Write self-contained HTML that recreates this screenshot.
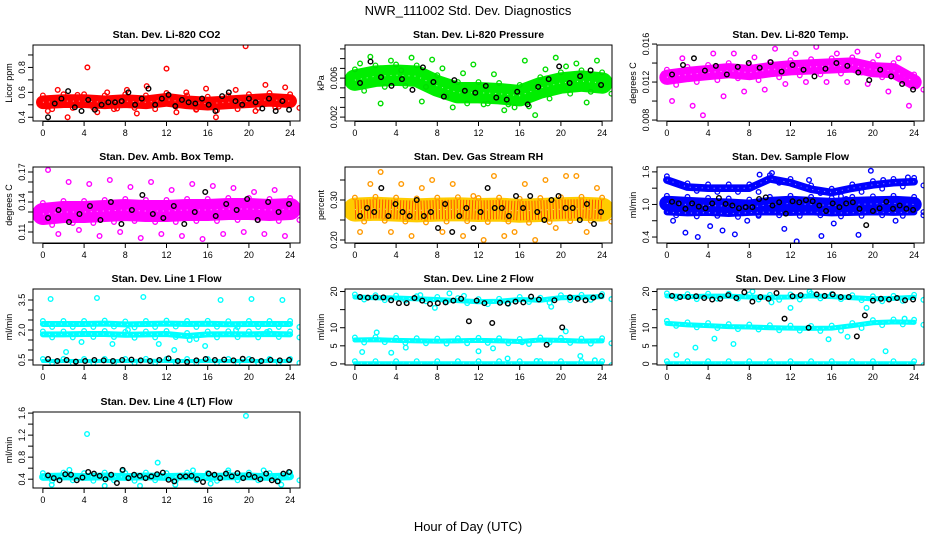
<!DOCTYPE html>
<html><head><meta charset="utf-8">
<style>
body{margin:0;background:#fff;}
svg{display:block;font-family:"Liberation Sans",sans-serif;}
</style></head>
<body>
<svg id="chart" width="936" height="540" viewBox="0 0 936 540">
<text x="468" y="15" text-anchor="middle" font-size="13">NWR_111002 Std. Dev. Diagnostics</text>
<text x="468" y="531" text-anchor="middle" font-size="13">Hour of Day (UTC)</text>
</svg>
<script>
// ---- data (x positions implicit = evenly spread 0..24 h) ----
const xTicks = [0,4,8,12,16,20,24];
const co2Band = [0.52,0.53,0.53,0.52,0.53,0.52,0.54,0.52,0.51,0.52,0.53,0.54,0.53];
const co2Pts = [0.45,0.62,0.4,0.58,0.8,0.44,0.6,0.47,0.62,0.43,0.65,0.5,0.79,0.44,0.6,0.46,0.63,0.4,0.55,0.62,0.97,0.45,0.66,0.48,0.64];
const co2Blk = [0.4,0.51,0.55,0.61,0.48,0.45,0.54,0.46,0.5,0.52,0.52,0.53,0.6,0.5,0.55,0.63,0.5,0.55,0.58,0.49,0.54,0.52,0.51,0.55,0.5,0.45,0.57,0.6,0.53,0.5,0.55,0.52,0.47,0.55,0.45,0.53,0.46];
const presBand = [0.0058,0.0062,0.0063,0.0062,0.0052,0.0045,0.0045,0.0044,0.0042,0.0050,0.0055,0.0057,0.0055];
const presPts = [0.0075,0.0082,0.0034,0.0078,0.0068,0.0081,0.0036,0.0079,0.0070,0.0030,0.0065,0.0074,0.0033,0.0064,0.0027,0.0030,0.0078,0.0022,0.0069,0.0081,0.0072,0.0075,0.0035,0.0078];
const presBlk = [0.0055,0.0077,0.0061,0.0052,0.0059,0.0048,0.0071,0.0056,0.0041,0.0058,0.0047,0.0045,0.0052,0.0040,0.0038,0.0046,0.0033,0.0051,0.0059,0.0072,0.0055,0.0062,0.0068,0.0053];
const tempBand = [0.0125,0.0128,0.0130,0.0132,0.0130,0.0133,0.0135,0.0136,0.0137,0.0138,0.0133,0.0132,0.0120];
const tempPts = [0.0100,0.0145,0.0095,0.0085,0.0150,0.0105,0.0150,0.0110,0.0146,0.0112,0.0155,0.0118,0.0150,0.0120,0.0157,0.0120,0.0150,0.0120,0.0152,0.0118,0.0148,0.0110,0.0145,0.0095];
const tempBlk = [0.0128,0.0138,0.0145,0.0132,0.0137,0.0128,0.0136,0.0140,0.0135,0.0141,0.0131,0.0138,0.0133,0.0126,0.0134,0.0140,0.0137,0.0130,0.0122,0.0133,0.0126,0.0118,0.0112];
const ambBand = [0.128,0.130,0.130,0.131,0.132,0.131,0.131,0.132,0.132,0.133,0.133,0.132,0.133];
const ambPts = [0.172,0.108,0.160,0.112,0.158,0.106,0.162,0.110,0.155,0.104,0.160,0.108,0.152,0.106,0.158,0.103,0.156,0.108,0.154,0.110,0.150,0.108,0.152,0.106];
const ambBlk = [0.124,0.132,0.120,0.128,0.136,0.122,0.140,0.118,0.132,0.147,0.128,0.124,0.136,0.118,0.130,0.150,0.126,0.138,0.132,0.143,0.122,0.140,0.130,0.138];
const rhBand = [0.276,0.278,0.276,0.274,0.276,0.277,0.275,0.276,0.273,0.275,0.277,0.278,0.276];
const rhPts = [0.22,0.34,0.37,0.22,0.34,0.21,0.33,0.35,0.22,0.34,0.21,0.31,0.20,0.36,0.21,0.22,0.34,0.20,0.35,0.23,0.36,0.36,0.22,0.33];
const rhBlk = [0.26,0.28,0.27,0.33,0.26,0.29,0.27,0.26,0.30,0.26,0.27,0.23,0.29,0.22,0.26,0.28,0.23,0.27,0.33,0.28,0.28,0.26,0.31,0.28,0.31,0.27,0.25,0.30,0.31,0.28,0.28,0.25,0.29,0.24,0.27];
const flowBandHi = [1.45,1.32,1.30,1.30,1.30,1.47,1.40,1.28,1.22,1.30,1.36,1.40,1.42];
const flowBandMid = [1.02,1.00,0.98,0.97,0.95,1.00,1.02,1.00,0.98,1.00,1.01,1.02,1.00];
const flowBandLo = [0.86,0.84,0.85,0.83,0.85,0.86,0.85,0.86,0.84,0.85,0.86,0.85,0.86];
const flowPts = [0.70,0.48,0.40,0.60,0.52,0.45,0.70,1.55,1.58,0.55,0.32,1.45,0.42,0.65,1.10,0.44,1.62,1.45,0.70,1.50];
const flowBlk = [1.05,1.02,0.92,1.02,0.96,0.93,1.02,1.12,1.01,0.98,0.93,0.95,0.95,1.10,1.13,0.98,1.04,0.83,1.06,1.04,1.08,1.06,0.98,0.88,1.02,0.95,1.02,1.04,0.92,0.62,0.88,0.93,1.05,0.92,0.98,0.92,0.90];
const l1BandA = [2.30,2.30,2.30,2.32,2.28,2.30,2.32,2.30,2.31,2.29,2.30,2.30,2.30];
const l1BandB = [1.78,1.78,1.80,1.80,1.76,1.78,1.80,1.70,1.78,1.79,1.78,1.80,1.78];
const l1BandC = [0.45,0.45,0.45,0.45,0.45,0.46,0.45,0.45,0.45,0.45,0.45,0.45,0.45];
const l1Pts = [3.55,0.9,1.4,3.6,1.3,2.0,3.65,1.3,1.0,1.5,1.2,3.5,2.0,3.55,1.9,3.5];
const l1Blk = [0.55,0.45,0.50,0.42,0.45,0.50,0.48,0.45,0.50,0.52,0.48,0.45,0.50,0.58,0.45,0.40,0.48,0.55,0.50,0.52,0.48,0.56,0.50,0.45,0.50,0.48,0.50];
const l2BandA = [18.5,18.3,18.2,18.0,17.8,17.5,17.2,17.3,17.8,17.6,18.3,18.4,18.6];
const l2BandB = [6.6,6.7,6.5,6.4,6.3,6.4,6.5,6.4,6.2,6.6,6.5,6.3,6.4];
const l2BandC = [0.2,0.2,0.2,0.2,0.2,0.2,0.2,0.2,0.2,0.2,0.2,0.2,0.2];
const l2Pts = [3.3,8.7,3.1,4.5,19.0,15.5,19.5,18.8,3.5,4.3,1.5,6.0,0.8,15.8,9.0,2.2,1.0];
const l2Blk = [18.5,18.3,18.4,18.4,17.6,16.8,16.8,18.2,17.5,16.6,16.8,17.0,17.5,18.0,11.8,17.5,16.8,11.3,16.9,16.7,17.2,17.0,18.6,17.8,5.3,17.6,10.1,18.4,18.0,17.6,18.3,18.8];
const l3BandA = [18.8,18.6,18.7,18.7,18.5,18.4,18.5,18.8,18.6,18.3,18.0,18.1,18.4];
const l3BandB = [11.2,10.8,10.6,10.3,10.2,10.0,9.9,9.8,9.9,10.6,11.4,11.6,11.5];
const l3BandC = [0.2,0.2,0.2,0.2,0.2,0.2,0.2,0.2,0.2,0.2,0.2,0.2,0.2];
const l3Pts = [2.5,4.5,7.0,5.5,20.0,17.0,15.5,20.0,6.8,7.5,15.5,3.5,12.5];
const l3Blk = [18.8,18.5,18.5,18.7,18.2,17.8,18.0,19.0,18.2,19.8,17.2,18.5,18.0,19.6,12.5,18.7,19.0,10.0,19.2,18.8,19.2,18.5,18.5,7.6,13.4,17.5,18.0,17.8,18.2,17.6,17.8];
const l4Band = [0.44,0.45,0.44,0.45,0.44,0.45,0.44,0.45,0.44,0.45,0.45,0.44,0.45];
const l4Pts = [0.30,0.57,1.22,0.28,0.55,0.28,0.70,0.30,0.56,0.32,0.56,1.55,0.56,0.30];
const l4Blk = [0.47,0.42,0.38,0.49,0.48,0.38,0.43,0.53,0.50,0.46,0.40,0.48,0.33,0.57,0.42,0.48,0.46,0.42,0.45,0.49,0.52,0.39,0.36,0.45,0.45,0.46,0.40,0.35,0.50,0.48,0.42,0.50,0.45,0.51,0.42,0.48,0.44,0.40,0.50,0.38,0.36,0.50,0.53];

const panels = [
 {key:'co2',title:'Stan. Dev. Li-820 CO2',yl:'Licor ppm',col:0,row:0,ymin:0.37,ymax:0.98,ticks:[0.4,0.5,0.6,0.7,0.8,0.9],labs:[0.4,0.6,0.8],dec:1,color:'#ff0000',fill:'#ff0000',bands:[co2Band],bw:[0.11],pts:co2Pts,blk:co2Blk},
 {key:'pressure',title:'Stan. Dev. Li-820 Pressure',yl:'kPa',col:1,row:0,ymin:0.0016,ymax:0.0094,ticks:[0.002,0.003,0.004,0.005,0.006,0.007,0.008,0.009],labs:[0.002,0.006],dec:3,color:'#00dd00',fill:'#00ee00',bands:[presBand],bw:[0.0022],pts:presPts,blk:presBlk},
 {key:'temp',title:'Stan. Dev. Li-820 Temp.',yl:'degrees C',col:2,row:0,ymin:0.0079,ymax:0.0159,ticks:[0.008,0.010,0.012,0.014,0.016],labs:[0.008,0.012,0.016],dec:3,color:'#ff00ff',fill:'#ff00ff',bands:[tempBand],bw:[0.0016],pts:tempPts,blk:tempBlk},
 {key:'ambbox',title:'Stan. Dev. Amb. Box Temp.',yl:'degrees C',col:0,row:1,ymin:0.099,ymax:0.175,ticks:[0.11,0.12,0.13,0.14,0.15,0.16,0.17],labs:[0.11,0.14,0.17],dec:2,color:'#ff00ff',fill:'#ff00ff',bands:[ambBand],bw:[0.022],pts:ambPts,blk:ambBlk},
 {key:'rh',title:'Stan. Dev. Gas Stream RH',yl:'percent',col:1,row:1,ymin:0.1925,ymax:0.3825,ticks:[0.20,0.25,0.30,0.35],labs:[0.20,0.30],dec:2,color:'#ff9900',fill:'#ffcc00',bands:[rhBand],bw:[0.06],pts:rhPts,blk:rhBlk},
 {key:'sampleflow',title:'Stan. Dev. Sample Flow',yl:'ml/min',col:2,row:1,ymin:0.29,ymax:1.69,ticks:[0.4,0.7,1.0,1.3,1.6],labs:[0.4,1.0,1.6],dec:1,color:'#0000ff',fill:'#0000ff',bands:[flowBandHi,flowBandMid,flowBandLo],bw:[0.14,0.28,0.12],pts:flowPts,blk:flowBlk},
 {key:'line1',title:'Stan. Dev. Line 1 Flow',yl:'ml/min',col:0,row:2,ymin:0.25,ymax:4.05,ticks:[0.5,1.0,1.5,2.0,2.5,3.0,3.5],labs:[0.5,2.0,3.5],dec:1,color:'#00ffff',fill:'#00ffff',bands:[l1BandA,l1BandB,l1BandC],bw:[0.3,0.3,0.2],pts:l1Pts,blk:l1Blk},
 {key:'line2',title:'Stan. Dev. Line 2 Flow',yl:'ml/min',col:1,row:2,ymin:-0.3,ymax:20.7,ticks:[0,5,10,15,20],labs:[0,5,10,20],dec:0,color:'#00ffff',fill:'#00ffff',bands:[l2BandA,l2BandB,l2BandC],bw:[1.4,1.4,1.0],pts:l2Pts,blk:l2Blk},
 {key:'line3',title:'Stan. Dev. Line 3 Flow',yl:'ml/min',col:2,row:2,ymin:-0.3,ymax:20.7,ticks:[0,5,10,15,20],labs:[0,5,10,20],dec:0,color:'#00ffff',fill:'#00ffff',bands:[l3BandA,l3BandB,l3BandC],bw:[1.4,1.4,1.0],pts:l3Pts,blk:l3Blk},
 {key:'line4',title:'Stan. Dev. Line 4 (LT) Flow',yl:'ml/min',col:0,row:3,ymin:0.24,ymax:1.62,ticks:[0.4,0.6,0.8,1.0,1.2,1.4,1.6],labs:[0.4,0.8,1.2,1.6],dec:1,color:'#00ffff',fill:'#00ffff',bands:[l4Band],bw:[0.14],pts:l4Pts,blk:l4Blk}
];

const NS='http://www.w3.org/2000/svg';
const svg=document.getElementById('chart');
const colX=[33,345,657], rowY=[45,167,289,412], W=267, H=76;
function mk(tag,attrs,parent){const e=document.createElementNS(NS,tag);for(const k in attrs)e.setAttribute(k,attrs[k]);parent.appendChild(e);return e;}

panels.forEach(p=>{
  const L=colX[p.col], T=rowY[p.row];
  const xs=h=>L+W*(h+0.96)/25.92;
  const ys=v=>T+H-(v-p.ymin)/(p.ymax-p.ymin)*H;
  const g=mk('g',{},svg);
  
  
  const t=mk('text',{x:L+W/2,y:T-7,'text-anchor':'middle','font-size':'10.5','font-weight':'bold'},g);
  t.textContent=p.title;
  
  
  const clip=mk('clipPath',{id:'c'+p.key},g);
  mk('rect',{x:L,y:T,width:W,height:H},clip);
  const marks=mk('g',{'clip-path':'url(#c'+p.key+')'},g);
  p.bands.forEach((b,bi)=>{
    const d=b.map((v,i)=>(i?'L':'M')+xs(i*24/(b.length-1)).toFixed(1)+','+ys(v).toFixed(1)).join(' ');
    const bw=Math.max(4,p.bw[Math.min(bi,p.bw.length-1)]/(p.ymax-p.ymin)*H);
    const path=mk('path',{d:d,fill:'none',stroke:p.fill,'stroke-width':bw,'stroke-linecap':'round','stroke-linejoin':'round'},marks);
    
    
    if(p.key==='rh'){mk('path',{d:d,fill:'none',stroke:'#ff2200','stroke-width':bw*0.8,'stroke-dasharray':'1 2','stroke-opacity':0.7},marks);}
    // white speckle texture to mimic overlapping open circles
    mk('path',{d:d,fill:'none',stroke:'#fff','stroke-width':1,'stroke-dasharray':'1 5','stroke-opacity':0.6},marks);
    b.forEach((v,i)=>{
      const c=mk('circle',{cx:xs(i*24/(b.length-1)),cy:ys(v)-bw/2,r:2.3,fill:'none',stroke:p.color,'stroke-width':1.3},marks);
      
      
      const c2=mk('circle',{cx:xs(i*24/(b.length-1)+0.9),cy:ys(v)+bw/2,r:2.3,fill:'none',stroke:p.color,'stroke-width':1.3},marks);
      
      
    });
  });
  p.pts.forEach((v,i)=>{
    const c=mk('circle',{cx:xs((i+0.5)*24/p.pts.length),cy:ys(v),r:2.3,fill:'none',stroke:p.color,'stroke-width':1.4},marks);
    
    
  });
  p.blk.forEach((v,i)=>{
    const c=mk('circle',{cx:xs(0.5+i*23.4/(p.blk.length-1)),cy:ys(v),r:2.3,fill:'none',stroke:'#000','stroke-width':1.4},marks);
    
    
  });
  const box=mk('rect',{x:L,y:T,width:W,height:H,fill:'none',stroke:'#000','stroke-width':1},g);
  
  
  mk('line',{x1:xs(0),x2:xs(24),y1:T+H+0.5,y2:T+H+0.5,stroke:'#000'},g);
  xTicks.forEach(h=>{
    mk('line',{x1:xs(h),x2:xs(h),y1:T+H,y2:T+H+5,stroke:'#000'},g);
    const tx=mk('text',{x:xs(h),y:T+H+15,'text-anchor':'middle','font-size':'9'},g);
    tx.textContent=h;
    
    
  });
  p.ticks.forEach(v=>{ mk('line',{x1:L-5,x2:L,y1:ys(v),y2:ys(v),stroke:'#000'},g); });
  p.labs.forEach(v=>{
    const y=ys(v);
    const tx=mk('text',{x:L-8,y:y,'text-anchor':'middle','font-size':'9',transform:'rotate(-90 '+(L-8)+' '+y+')'},g);
    tx.textContent=v.toFixed(p.dec);
    
    
  });
  const yl=mk('text',{x:L-21,y:T+H/2,'text-anchor':'middle','font-size':'9',transform:'rotate(-90 '+(L-21)+' '+(T+H/2)+')'},g);
  yl.textContent=p.yl;
  
  
});
</script>
</body></html>
